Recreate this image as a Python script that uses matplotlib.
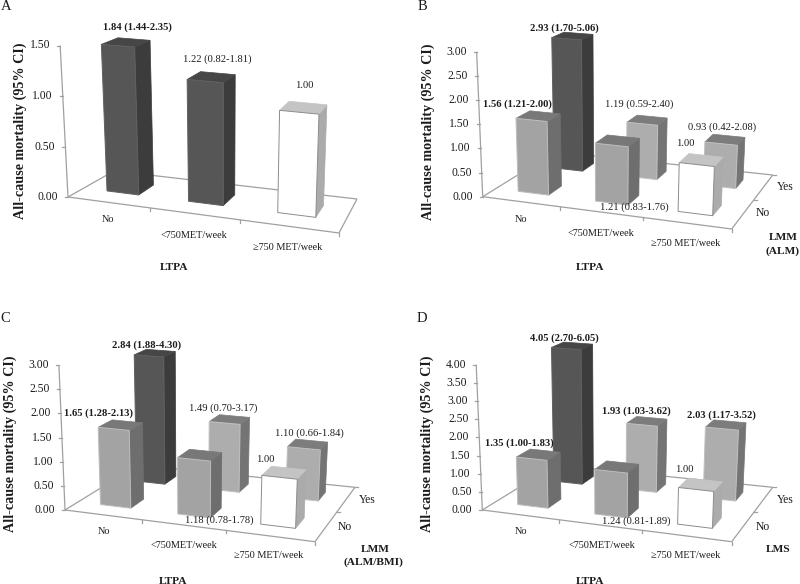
import numpy as np
import matplotlib
matplotlib.use("Agg")
import matplotlib.pyplot as plt
from matplotlib.patches import Polygon

plt.rcParams['font.family'] = ['Liberation Serif', 'DejaVu Serif']

categories = ["No", "<750MET/week", "≥750 MET/week"]
rows = ["No", "Yes"]

# hazard ratios, [row][category], front row first
hr_a = [[1.84, 1.22, 1.00]]
lo_a = [[1.44, 0.82, None]]
hi_a = [[2.35, 1.81, None]]
bold_a = [[True, False, False]]

hr_b = [[1.56, 1.21, 1.00], [2.93, 1.19, 0.93]]
lo_b = [[1.21, 0.83, None], [1.70, 0.59, 0.42]]
hi_b = [[2.00, 1.76, None], [5.06, 2.40, 2.08]]
bold_b = [[True, False, False], [True, False, False]]

hr_c = [[1.65, 1.18, 1.00], [2.84, 1.49, 1.10]]
lo_c = [[1.28, 0.78, None], [1.88, 0.70, 0.66]]
hi_c = [[2.13, 1.78, None], [4.30, 3.17, 1.84]]
bold_c = [[True, False, False], [True, False, False]]

hr_d = [[1.35, 1.24, 1.00], [4.05, 1.93, 2.03]]
lo_d = [[1.00, 0.81, None], [2.70, 1.03, 1.17]]
hi_d = [[1.83, 1.89, None], [6.05, 3.62, 3.52]]
bold_d = [[True, False, False], [True, True, True]]

ticks_a = [0.0, 0.5, 1.0, 1.5]
ticks_b = [0.0, 0.5, 1.0, 1.5, 2.0, 2.5, 3.0]
ticks_d = [0.0, 0.5, 1.0, 1.5, 2.0, 2.5, 3.0, 3.5, 4.0]

# face colours: front, side, top, front edge
DARK = ("#565656", "#3c3c3c", "#464646", "#606060")
GREY = ("#a3a3a3", "#6e6e6e", "#787878", "#bdbdbd")
LIGHT = ("#adadad", "#747474", "#7c7c7c", "#c0c0c0")
WHITE = ("#ffffff", "#ababab", "#c4c4c4", "#8c8c8c")
LINE = "#a0a0a0"
TEXT = "#1c1c1c"


def homography(q):
    # unit square -> quad (front-left, front-right, back-right, back-left)
    src = [(0, 0), (1, 0), (1, 1), (0, 1)]
    A, b = [], []
    for (u, v), (x, y) in zip(src, q):
        A.append([u, v, 1, 0, 0, 0, -u * x, -v * x])
        A.append([0, 0, 0, u, v, 1, -u * y, -v * y])
        b += [x, y]
    return np.append(np.linalg.solve(np.array(A, float), np.array(b, float)), 1).reshape(3, 3)


class Panel:
    def __init__(self, ax, quad, unit, vx, nrows):
        self.ax = ax
        self.H = homography(quad)
        self.y0 = quad[0][1]
        self.unit = unit
        self.vx = vx
        self.nrows = nrows

    def pt(self, u, v, z=0.0, k=1.0):
        # u across categories (0-3), v along rows (0-nrows), z value
        p = self.H @ np.array([u / 3, v / self.nrows, 1.0])
        x, y = p[0] / p[2], p[1] / p[2]
        h = z * k * self.unit * (1 + 0.0021 * (y - self.y0))
        return x + (x - self.vx) / 3000 * h, y - h

    def line(self, a, b):
        xs, ys = zip(a, b)
        self.ax.plot(xs, ys, color=LINE, lw=0.9, solid_capstyle='butt', zorder=1)

    def bar(self, i, j, z, colors, zorder, bw=0.40, bd=0.36):
        k = 0.98
        u0, u1 = i + 0.5 - bw / 2, i + 0.5 + bw / 2
        v0, v1 = j + 0.5 - bd / 2, j + 0.5 + bd / 2
        front = [self.pt(u0, v0), self.pt(u1, v0), self.pt(u1, v0, z, k), self.pt(u0, v0, z, k)]
        side = [self.pt(u1, v0), self.pt(u1, v1), self.pt(u1, v1, z, k), self.pt(u1, v0, z, k)]
        top = [self.pt(u0, v0, z, k), self.pt(u1, v0, z, k), self.pt(u1, v1, z, k), self.pt(u0, v1, z, k)]
        self.ax.add_patch(Polygon(side, facecolor=colors[1], edgecolor=colors[1], lw=0.5, zorder=zorder))
        self.ax.add_patch(Polygon(top, facecolor=colors[2], edgecolor=colors[2], lw=0.5, zorder=zorder))
        self.ax.add_patch(Polygon(front, facecolor=colors[0], edgecolor=colors[3], lw=0.7, zorder=zorder))


def label(ax, x, y, s, size=7.6, weight='normal', **kw):
    ax.text(x, y, s, fontsize=size, fontweight=weight, color=TEXT, ha=kw.pop('ha', 'center'),
            va='center', zorder=20, **kw)


def hr_text(hr, lo, hi):
    if lo is None:
        return f"{hr:.2f}"
    return f"{hr:.2f} ({lo:.2f}-{hi:.2f})"


def draw_panel(ax, letter, letter_xy, quad, vx, unit, ticks, hr, lo, hi, bold, colors,
               value_xy, cat_xy, ltpa_xy, ylabel_xy, row_xy=None, row_title=None):
    p = Panel(ax, quad, unit, vx, len(hr))
    n = len(hr)
    p.line(p.pt(0, 0), p.pt(3, 0))
    p.line(p.pt(3, 0), p.pt(3, n))
    p.line(p.pt(3, n), p.pt(0, n))
    p.line(p.pt(0, n), p.pt(0, 0))
    p.line(p.pt(0, 0), p.pt(0, 0, ticks[-1]))
    for t in ticks:
        x, y = p.pt(0, 0, t)
        ax.plot([x - 3, x], [y, y], color=LINE, lw=0.9, zorder=1)
        label(ax, x - 10, y, f"{t:.2f}", size=8.4, ha='right')
    for i in (1, 2, 3):
        x, y = p.pt(i, 0)
        ax.plot([x, x], [y, y + 3], color=LINE, lw=0.9, zorder=1)
    if n == 2:
        for j in (1, 2):
            x, y = p.pt(3, j)
            ax.plot([x, x + 3], [y, y], color=LINE, lw=0.9, zorder=1)
    for j in range(n - 1, -1, -1):
        for i in range(3):
            p.bar(i, j, min(hr[j][i], ticks[-1]), colors[j][i], zorder=5 + 2 * (n - j))
            s = hr_text(hr[j][i], lo[j][i], hi[j][i])
            label(ax, *value_xy[j][i], s, weight='bold' if bold[j][i] else 'normal')
    for c, xy in zip(categories, cat_xy):
        label(ax, *xy, c, size=7.4)
    label(ax, *ltpa_xy, "LTPA", size=8.2, weight='bold')
    ax.text(*ylabel_xy, "All-cause mortality (95% CI)", rotation=90, fontsize=10.2, fontweight='bold',
            color=TEXT, ha='center', va='center', zorder=20)
    label(ax, *letter_xy, letter, size=10.5)
    if row_xy:
        for r, xy in zip(rows, row_xy):
            label(ax, *xy, r, size=8.4)
        for t, xy in row_title:
            label(ax, *xy, t, size=8.2, weight='bold')


fig = plt.figure(figsize=(8, 5.84), dpi=100)
ax = fig.add_axes([0, 0, 1, 1])
ax.set_xlim(0, 800)
ax.set_ylim(584, 0)
ax.axis('off')

draw_panel(ax, "A", (6, 7), [(68, 197), (339, 233), (357, 199), (114, 171)], 223, 101, ticks_a,
           hr_a, lo_a, hi_a, bold_a, [[DARK, DARK, WHITE]],
           [[(137, 27), (217, 59), (304, 86)]],
           [(108, 220), (194, 235), (288, 247)], (174, 268), (20, 131))

draw_panel(ax, "B", (422, 7), [(482.7, 196.7), (731.7, 229), (772.7, 175), (555.5, 151.7)], 608, 48.3, ticks_b,
           hr_b, lo_b, hi_b, bold_b, [[GREY, GREY, WHITE], [DARK, LIGHT, LIGHT]],
           [[(517, 104), (634, 207), (685, 143)], [(564, 28), (639, 104), (722, 127)]],
           [(521, 219), (601, 233), (686, 244)], (590, 268), (428, 132),
           [(763, 213), (785, 187)], [("LMM", (783, 237)), ("(ALM)", (783, 251))])

draw_panel(ax, "C", (5, 319), [(65, 510), (315, 541.7), (355, 487.3), (138, 465)], 191, 48.3, ticks_b,
           hr_c, lo_c, hi_c, bold_c, [[GREY, GREY, WHITE], [DARK, LIGHT, LIGHT]],
           [[(99, 413), (219, 520), (265, 459)], [(147, 345), (223, 408), (309, 433)]],
           [(104, 532), (184, 545), (269, 556)], (173, 581), (10, 444),
           [(345, 527), (367, 500)], [("LMM", (375, 549)), ("(ALM/BMI)", (373, 562))])

draw_panel(ax, "D", (422, 319), [(482.3, 510), (731.7, 541.7), (772.7, 487.3), (555.5, 465)], 608, 36.3, ticks_d,
           hr_d, lo_d, hi_d, bold_d, [[GREY, GREY, WHITE], [DARK, LIGHT, LIGHT]],
           [[(519, 443), (636, 521), (684, 469)], [(564, 338), (636, 411), (721, 415)]],
           [(521, 532), (602, 545), (686, 556)], (590, 581), (427, 444),
           [(763, 527), (785, 500)], [("LMS", (778, 550))])

fig.savefig("out.png", dpi=100)
